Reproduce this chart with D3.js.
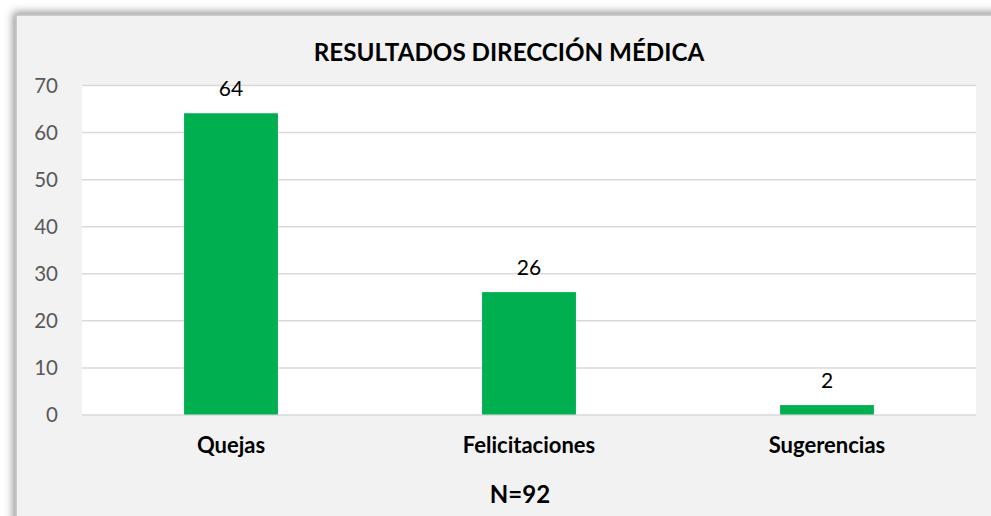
<!DOCTYPE html>
<html><head><meta charset="utf-8">
<script src="https://cdn.jsdelivr.net/npm/d3@7"></script>
<style>html,body{margin:0;padding:0;background:#fff;overflow:hidden}</style>
</head><body>
<svg id="c" width="991" height="516"></svg>
<script>
const categories = ["Quejas", "Felicitaciones", "Sugerencias"];
const values = [64, 26, 2];
const yTicks = [0, 10, 20, 30, 40, 50, 60, 70];
const title = "RESULTADOS DIRECCIÓN MÉDICA";
const footer = "N=92";

const svg = d3.select("#c");
const defs = svg.append("defs");
const f = defs.append("filter").attr("id","sh").attr("x","-5%").attr("y","-5%").attr("width","110%").attr("height","110%");
f.append("feDropShadow").attr("dx",-2).attr("dy",-2).attr("stdDeviation",4).attr("flood-color","#000").attr("flood-opacity",0.45);

// outer panel
svg.append("rect").attr("x",16).attr("y",15).attr("width",1000).attr("height",520)
  .attr("fill","#f2f2f2").attr("stroke","#bfbfbf").attr("stroke-width",1.5).attr("filter","url(#sh)");

const m = {left:82, right:976, top:85, bottom:414.5};
const x = d3.scaleBand().domain(categories).range([m.left, m.right]).paddingInner(0.685).paddingOuter(0.3425);
const y = d3.scaleLinear().domain([0,70]).range([m.bottom, m.top]);

svg.append("rect").attr("x",m.left).attr("y",m.top).attr("width",m.right-m.left).attr("height",m.bottom-m.top).attr("fill","#fff");

const font = "Lato, 'Open Sans', sans-serif";

// gridlines
const yAxis = d3.axisLeft(y).tickValues(yTicks).tickSize(-(m.right-m.left)).tickPadding(24).tickFormat(d3.format("d"));
const ga = svg.append("g").attr("transform",`translate(${m.left},0)`).call(yAxis);
ga.select(".domain").remove();
ga.selectAll(".tick line").attr("stroke","#d9d9d9").attr("stroke-width",1.5);
ga.selectAll(".tick text").attr("fill","#595959").attr("font-family",font).attr("font-size",20.5).attr("dy","0.36em");

// bars
svg.append("g").selectAll("rect").data(values).join("rect")
  .attr("x",(d,i)=>x(categories[i])).attr("width",x.bandwidth())
  .attr("y",d=>y(d)).attr("height",d=>y(0)-y(d)).attr("fill","#00b050");

// data labels
svg.append("g").selectAll("text").data(values).join("text")
  .attr("x",(d,i)=>x(categories[i])+x.bandwidth()/2).attr("y",d=>y(d)-17)
  .attr("text-anchor","middle").attr("font-family",font).attr("font-size",21).attr("fill","#000")
  .text(d=>d);

// category labels
const xAxis = d3.axisBottom(x).tickSize(0).tickPadding(0);
const gx = svg.append("g").attr("transform",`translate(0,${m.bottom})`).call(xAxis);
gx.select(".domain").remove();
gx.selectAll(".tick text").attr("y",38.5).attr("dy",0).attr("fill","#000").attr("font-family",font).attr("font-size",22).attr("font-weight","bold");

// title
svg.append("text").attr("x",509).attr("y",61).attr("text-anchor","middle").attr("font-family",font)
  .attr("font-size",24.2).attr("font-weight","bold").attr("fill","#000").text(title);

svg.append("text").attr("x",520).attr("y",503).attr("text-anchor","middle").attr("font-family",font)
  .attr("font-size",24).attr("font-weight","bold").attr("fill","#000").text(footer);
</script>
</body></html>
